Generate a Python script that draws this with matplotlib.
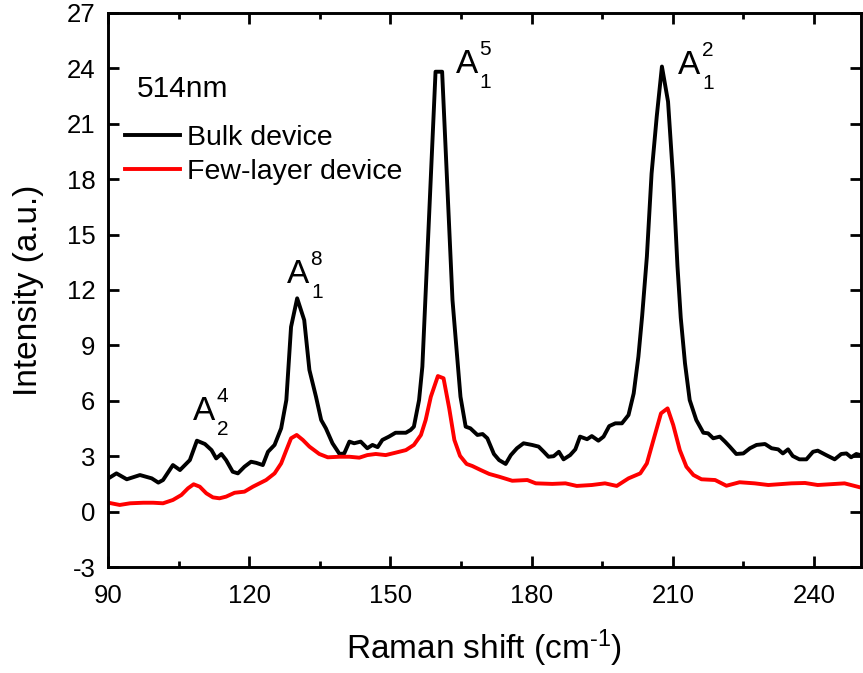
import numpy as np
import matplotlib
matplotlib.use('Agg')
import matplotlib.pyplot as plt
from matplotlib.ticker import MultipleLocator

# Raman spectra
bulk_shift = [90.1, 91.8, 94.0, 96.8, 99.3, 100.7, 101.7, 103.8, 105.3, 107.4,
              108.9, 110.6, 112.0, 113.0, 114.1, 115.1, 116.5, 117.6, 119.0, 120.4,
              121.5, 122.9, 124.0, 125.4, 126.8, 127.9, 128.9, 130.2, 131.7, 132.8,
              134.2, 135.3, 136.3, 137.7, 139.2, 140.2, 141.3, 142.3, 143.7, 145.1,
              146.2, 147.3, 148.3, 149.7, 151.1, 153.3, 154.3, 155.0, 156.1, 156.8,
              159.6, 161.0, 163.2, 163.9, 164.9, 166.0, 167.0, 168.5, 169.6, 170.6,
              172.0, 173.1, 174.5, 175.6, 176.9, 178.3, 180.1, 181.5, 182.6, 183.6,
              184.7, 185.8, 186.8, 188.2, 189.3, 190.3, 191.8, 192.8, 194.2, 195.3,
              196.5, 197.8, 199.2, 200.6, 201.7, 202.7, 203.5, 204.5, 205.5, 206.6,
              207.7, 209.0, 210.1, 211.0, 211.7, 212.6, 213.6, 215.0, 216.5, 217.5,
              218.6, 220.0, 221.1, 222.1, 223.5, 225.0, 226.4, 227.8, 229.6, 231.0,
              232.4, 233.4, 234.5, 235.5, 236.9, 238.4, 239.8, 240.8, 242.6, 244.4,
              245.8, 246.9, 247.9, 249.0, 250.0]
bulk_int = [1.80, 2.07, 1.75, 1.98, 1.80, 1.57, 1.71, 2.52, 2.25, 2.79,
            3.84, 3.66, 3.33, 2.88, 3.12, 2.79, 2.16, 2.07, 2.43, 2.70,
            2.64, 2.52, 3.24, 3.61, 4.51, 6.04, 10.0, 11.55, 10.37, 7.67,
            6.22, 4.96, 4.51, 3.70, 3.12, 3.15, 3.79, 3.70, 3.79, 3.43,
            3.61, 3.49, 3.88, 4.06, 4.27, 4.27, 4.42, 4.60, 6.04, 7.85,
            23.82, 23.82, 11.46, 9.29, 6.22, 4.60, 4.51, 4.15, 4.20, 3.97,
            3.12, 2.79, 2.58, 3.06, 3.43, 3.70, 3.61, 3.52, 3.24, 2.97,
            3.00, 3.24, 2.83, 3.06, 3.37, 4.06, 3.92, 4.09, 3.84, 4.06,
            4.63, 4.78, 4.78, 5.23, 6.40, 8.39, 10.6, 13.8, 18.3, 21.4,
            24.1, 22.2, 17.95, 13.3, 10.5, 8.03, 6.04, 4.96, 4.27, 4.24,
            3.97, 4.06, 3.79, 3.52, 3.12, 3.15, 3.43, 3.61, 3.66, 3.43,
            3.37, 3.15, 3.37, 3.01, 2.83, 2.83, 3.24, 3.30, 3.06, 2.83,
            3.12, 3.15, 2.94, 3.12, 3.05]

few_shift = [90.1, 92.5, 94.7, 97.5, 99.6, 101.7, 103.8, 105.6, 107.0, 108.2,
             109.5, 110.9, 112.3, 113.7, 115.1, 116.9, 119.0, 120.8, 122.2, 123.6,
             125.4, 126.8, 127.9, 128.9, 130.1, 131.4, 132.8, 134.9, 136.7, 139.2,
             141.3, 143.4, 145.1, 146.9, 149.0, 151.1, 153.3, 155.0, 156.5, 157.5,
             158.6, 160.1, 161.3, 162.5, 163.6, 164.8, 166.2, 167.4, 169.2, 171.0,
             173.1, 175.9, 179.1, 180.9, 184.4, 187.2, 189.6, 192.8, 195.6, 198.1,
             200.6, 203.1, 204.5, 205.9, 207.5, 208.9, 210.1, 211.5, 212.9, 214.4,
             216.1, 219.0, 221.4, 224.2, 227.4, 230.3, 235.2, 238.1, 240.8, 246.5,
             250.0]
few_int = [0.48, 0.36, 0.45, 0.48, 0.48, 0.45, 0.63, 0.90, 1.26, 1.48,
           1.35, 0.99, 0.77, 0.72, 0.81, 1.02, 1.08, 1.35, 1.53, 1.71,
           2.07, 2.61, 3.33, 3.97, 4.15, 3.88, 3.52, 3.12, 2.94, 2.97,
           2.97, 2.92, 3.06, 3.12, 3.06, 3.19, 3.33, 3.61, 4.15, 4.96,
           6.22, 7.34, 7.22, 5.60, 3.88, 3.02, 2.58, 2.47, 2.25, 2.04,
           1.89, 1.67, 1.71, 1.53, 1.50, 1.53, 1.39, 1.44, 1.53, 1.39,
           1.80, 2.07, 2.61, 3.88, 5.32, 5.59, 4.69, 3.33, 2.43, 1.98,
           1.75, 1.71, 1.40, 1.59, 1.53, 1.44, 1.53, 1.55, 1.44, 1.53,
           1.30]

series_labels = ['Bulk device', 'Few-layer device']

# peak labels A_sub^sup, (x, y) = lower-left corner of the "A"
peak_sub = ['2', '1', '1', '1']
peak_sup = ['4', '8', '5', '2']
peak_pos = [(108.0, 4.96), (128.1, 12.38), (163.9, 23.76), (211.2, 23.69)]

plt.rcParams['font.family'] = ['Liberation Sans', 'DejaVu Sans']
plt.rcParams['mathtext.fontset'] = 'custom'
plt.rcParams['mathtext.rm'] = 'Liberation Sans'
plt.rcParams['mathtext.it'] = 'Liberation Sans:italic'
plt.rcParams['axes.unicode_minus'] = False

fig = plt.figure(figsize=(8.63, 6.73), dpi=100)
ax = fig.add_axes([0.1251, 0.1575, 0.8726, 0.8232])

ax.plot(bulk_shift, bulk_int, color='black', linewidth=2.8, label=series_labels[0])
ax.plot(few_shift, few_int, color='red', linewidth=2.8, label=series_labels[1])

ax.set_xlim(90, 250)
ax.set_ylim(-3, 27)
ax.xaxis.set_major_locator(MultipleLocator(30))
ax.xaxis.set_minor_locator(MultipleLocator(15))
ax.yaxis.set_major_locator(MultipleLocator(3))

ax.tick_params(which='both', direction='in', top=True, right=True, width=2)
ax.tick_params(which='major', length=8, labelsize=18.5)
ax.tick_params(axis='x', which='major', pad=12)
ax.tick_params(axis='y', which='major', pad=9)
ax.tick_params(which='minor', length=4.5)
for sp in ax.spines.values():
    sp.set_linewidth(2.1)

ax.set_xlabel(r'Raman shift (cm$^{\text{-1}}$)', fontsize=24, labelpad=14)
ax.set_ylabel('Intensity (a.u.)', fontsize=24, labelpad=16)

for sub, sup, (px, py) in zip(peak_sub, peak_sup, peak_pos):
    ax.text(px, py, 'A', fontsize=24, ha='left', va='baseline')
    ax.annotate(sup, xy=(px, py), xytext=(16.8, 13), textcoords='offset points',
                fontsize=15, ha='left', va='baseline')
    ax.annotate(sub, xy=(px, py), xytext=(17.2, -10.8), textcoords='offset points',
                fontsize=15, ha='left', va='baseline')

ax.text(96.1, 22.46, '514nm', fontsize=21.5, ha='left', va='baseline')

ax.legend(loc='upper left', bbox_to_anchor=(0.0226, 0.797), frameon=False,
          fontsize=20.5, handlelength=1.93, handletextpad=0.24, labelspacing=0.26,
          borderpad=0, borderaxespad=0)

fig.savefig('out.png', dpi=100)
